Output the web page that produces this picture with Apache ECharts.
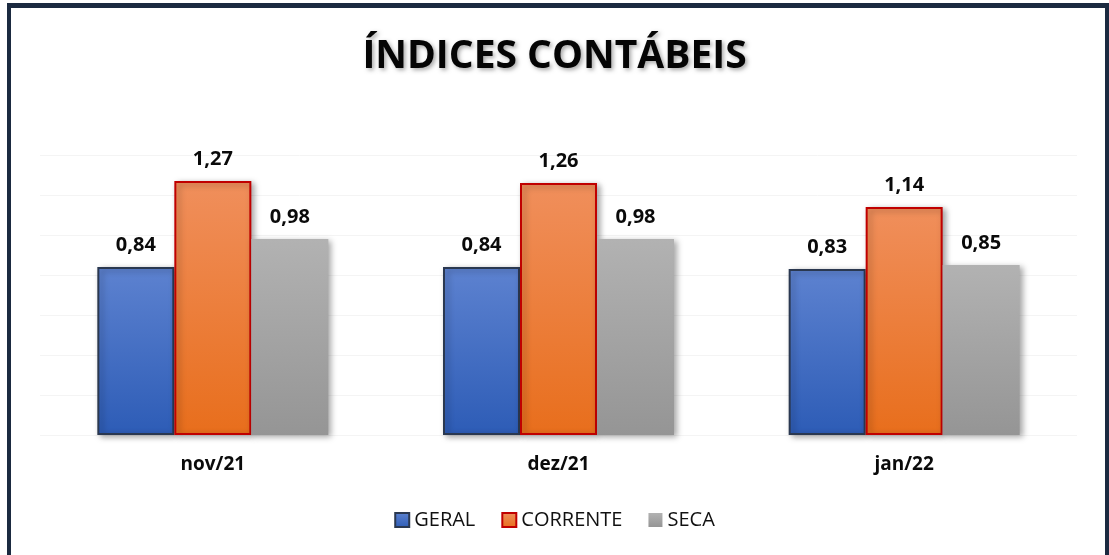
<!DOCTYPE html>
<html>
<head>
<meta charset="utf-8">
<script src="https://cdn.jsdelivr.net/npm/echarts@6/dist/echarts.min.js"></script>
<style>
  html, body { margin: 0; padding: 0; background: #fff; }
  #frame {
    position: absolute; left: 7px; top: 3px; width: 1094px; height: 600px;
    border: 4px solid #1b2a40; border-top-width: 5px;
  }
  #main { position: absolute; left: 0; top: 0; width: 1109px; height: 555px; }
</style>
</head>
<body>
<div id="frame"></div>
<div id="main"></div>
<script>
// dados do gráfico
var categorias = ['nov/21', 'dez/21', 'jan/22'];
var geral = [0.84, 0.84, 0.83];
var corrente = [1.27, 1.26, 1.14];
var seca = [0.98, 0.98, 0.85];
var yMax = 1.4;
var yStep = 0.2;

function grad(c1, c2) {
  return new echarts.graphic.LinearGradient(0, 0, 0, 1, [
    { offset: 0, color: c1 },
    { offset: 1, color: c2 }
  ]);
}

function fmt(p) {
  return p.value.toFixed(2).replace('.', ',');
}

var rotulo = {
  show: true,
  position: 'top',
  distance: 12,
  formatter: fmt,
  fontFamily: 'Open Sans',
  fontWeight: 'bold',
  fontSize: 20,
  color: '#0a0a0a'
};

var sombra = {
  shadowBlur: 6,
  shadowColor: 'rgba(0,0,0,0.35)',
  shadowOffsetX: 3,
  shadowOffsetY: 2
};

function serie(nome, dados, c1, c2, borda, bw) {
  return {
    name: nome,
    type: 'bar',
    data: dados,
    barWidth: 77,
    barGap: '0%',
    label: rotulo,
    itemStyle: Object.assign({
      color: grad(c1, c2),
      borderColor: borda,
      borderWidth: bw
    }, sombra)
  };
}

var chart = echarts.init(document.getElementById('main'));
chart.setOption({
  animation: false,
  title: {
    text: 'ÍNDICES CONTÁBEIS',
    left: 'center',
    top: 32,
    textStyle: {
      fontFamily: 'Open Sans',
      fontWeight: 'bold',
      fontSize: 39,
      color: '#050505',
      textShadowColor: 'rgba(0,0,0,0.35)',
      textShadowBlur: 4,
      textShadowOffsetX: 2,
      textShadowOffsetY: 2
    }
  },
  legend: {
    bottom: 20,
    left: 'center',
    icon: 'rect',
    itemWidth: 14,
    itemHeight: 14,
    itemGap: 26,
    textStyle: { fontFamily: 'Open Sans', fontSize: 20, color: '#111' },
    data: ['GERAL', 'CORRENTE', 'SECA']
  },
  grid: { left: 40, right: 32, top: 155, bottom: 120 },
  xAxis: {
    type: 'category',
    data: categorias,
    axisLine: { show: false },
    axisTick: { show: false },
    axisLabel: {
      margin: 20,
      fontFamily: 'Open Sans',
      fontWeight: 'bold',
      fontSize: 19,
      color: '#0a0a0a'
    }
  },
  yAxis: {
    type: 'value',
    min: 0,
    max: yMax,
    interval: yStep,
    axisLabel: { show: false },
    axisLine: { show: false },
    axisTick: { show: false },
    splitLine: { lineStyle: { color: '#f4f4f4', width: 1 } }
  },
  series: [
    serie('GERAL', geral, '#5d82d0', '#2d5cb6', '#2a3850', 2),
    serie('CORRENTE', corrente, '#f08f5c', '#e86e1c', '#c00000', 2),
    serie('SECA', seca, '#b2b2b2', '#959595', '#a0a0a0', 0)
  ]
});
</script>
</body>
</html>
